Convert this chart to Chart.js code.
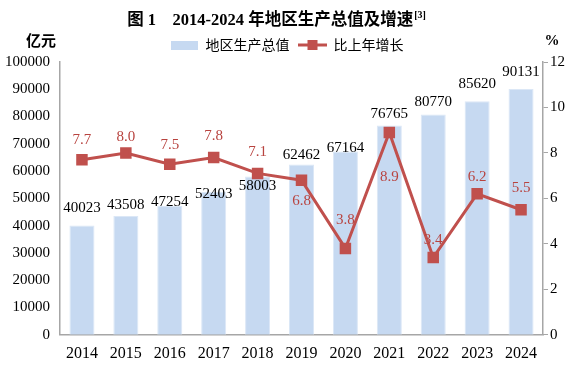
<!DOCTYPE html>
<html>
<head>
<meta charset="utf-8">
<script src="https://cdn.jsdelivr.net/npm/chart.js@4"></script>
<style>
  html, body { margin: 0; padding: 0; background: #fff; }
  #wrap { width: 574px; height: 372px; }
</style>
</head>
<body>
<div id="wrap"><canvas id="gdp-chart" width="574" height="372"></canvas></div>
<script>
// data
var years = ["2014", "2015", "2016", "2017", "2018", "2019", "2020", "2021", "2022", "2023", "2024"];
var gdp = [40023, 43508, 47254, 52403, 58003, 62462, 67164, 76765, 80770, 85620, 90131];
var growth = [7.7, 8.0, 7.5, 7.8, 7.1, 6.8, 3.8, 8.9, 3.4, 6.2, 5.5];

var serif = '"Liberation Serif", "Times New Roman", "Noto Sans CJK SC", serif';
var cjk = '"Noto Sans CJK SC", "Liberation Serif", serif';
var barColor = '#c6d9f1';
var lineColor = '#c0504d';
var axisColor = '#a6a6a6';

// label nudges (px from bar top / point), as placed in the original
var barLabelShift = [-18, -11, -4, 2, 9, -9, -4, -11, -12, -17, -17];
var lineLabelShift = [-20, -16, -19, -21, -21, 21, -28, 45, -17, -17, -22];

// little canvases used as legend symbols
function barSymbol() {
    var c = document.createElement('canvas');
    c.width = 27; c.height = 9;
    var g = c.getContext('2d');
    g.fillStyle = barColor;
    g.fillRect(0, 0, 27, 9);
    return c;
}
function lineSymbol() {
    var c = document.createElement('canvas');
    c.width = 29; c.height = 12;
    var g = c.getContext('2d');
    g.strokeStyle = lineColor;
    g.lineWidth = 3;
    g.beginPath(); g.moveTo(0, 6); g.lineTo(29, 6); g.stroke();
    g.fillStyle = lineColor;
    g.fillRect(9.5, 1, 10, 10);
    return c;
}

// title, unit labels and value labels
var extras = {
    id: 'extras',
    afterDraw: function(chart) {
        var ctx = chart.ctx;
        ctx.save();
        // title with superscript note
        var t1 = '图 1    2014-2024 年地区生产总值及增速';
        ctx.font = 'bold 16.5px ' + serif;
        var w1 = ctx.measureText(t1).width;
        ctx.font = 'bold 10px ' + serif;
        var w2 = ctx.measureText('[3]').width;
        var x0 = 276 - (w1 + w2) / 2;
        ctx.fillStyle = '#000';
        ctx.textBaseline = 'middle';
        ctx.textAlign = 'left';
        ctx.font = 'bold 16.5px ' + serif;
        ctx.fillText(t1, x0, 21);
        ctx.font = 'bold 10px ' + serif;
        ctx.fillText('[3]', x0 + w1 + 1, 15);

        // unit labels
        ctx.font = 'bold 15px ' + cjk;
        ctx.textAlign = 'center';
        ctx.fillText('亿元', 41, 40);
        ctx.font = 'bold 15px ' + serif;
        ctx.fillText('%', 552, 41);

        // bar values
        var bars = chart.getDatasetMeta(1).data;
        ctx.font = '15px ' + serif;
        ctx.fillStyle = '#000';
        bars.forEach(function(bar, i) {
            ctx.fillText(String(gdp[i]), bar.x, bar.y + barLabelShift[i]);
        });

        // growth values
        var pts = chart.getDatasetMeta(0).data;
        ctx.font = '15px ' + serif;
        ctx.fillStyle = '#b8433f';
        pts.forEach(function(p, i) {
            ctx.fillText(growth[i].toFixed(1), p.x, p.y + lineLabelShift[i]);
        });
        ctx.restore();
    }
};

var ctx = document.getElementById('gdp-chart').getContext('2d');

var myChart = new Chart(ctx, {
    data: {
        labels: years,
        datasets: [{
            type: 'line',
            label: '比上年增长',
            data: growth,
            yAxisID: 'y1',
            borderColor: lineColor,
            backgroundColor: lineColor,
            borderWidth: 3,
            pointStyle: 'rect',
            pointRadius: 6,
            pointHoverRadius: 6,
            tension: 0,
            order: 0
        }, {
            type: 'bar',
            label: '地区生产总值',
            data: gdp,
            yAxisID: 'y',
            backgroundColor: barColor,
            borderColor: '#dbe7f6',
            borderWidth: 1,
            barPercentage: 0.57,
            categoryPercentage: 1,
            order: 1
        }]
    },
    options: {
        responsive: false,
        animation: false,
        layout: {
            padding: { top: 29, left: 0, right: 0, bottom: 0 }
        },
        scales: {
            x: {
                offset: true,
                grid: { display: false, drawTicks: false },
                border: { color: axisColor, width: 1.5 },
                ticks: {
                    color: '#000',
                    padding: 9,
                    font: { family: serif, size: 16 }
                }
            },
            y: {
                position: 'left',
                min: 0,
                max: 100000,
                grid: { display: false, drawTicks: false },
                border: { color: axisColor, width: 1.5 },
                ticks: {
                    stepSize: 10000,
                    color: '#000',
                    padding: 10,
                    font: { family: serif, size: 15 },
                    callback: function(v) { return String(v); }
                },
                afterFit: function(s) { s.width = 60; }
            },
            y1: {
                position: 'right',
                min: 0,
                max: 12,
                grid: { display: true, drawOnChartArea: false, drawTicks: true, tickLength: 5, color: axisColor },
                border: { color: axisColor, width: 1.5 },
                ticks: {
                    stepSize: 2,
                    color: '#000',
                    padding: 2,
                    font: { family: serif, size: 15 }
                },
                afterFit: function(s) { s.width = 31; }
            }
        },
        plugins: {
            legend: {
                position: 'top',
                reverse: true,
                labels: {
                    usePointStyle: true,
                    pointStyleWidth: 28,
                    padding: 9,
                    color: '#000',
                    font: { family: cjk, size: 14 },
                    generateLabels: function(chart) {
                        return [
                            { text: '比上年增长', pointStyle: lineSymbol(), datasetIndex: 0, fontColor: '#000', lineWidth: 0 },
                            { text: '地区生产总值', pointStyle: barSymbol(), datasetIndex: 1, fontColor: '#000', lineWidth: 0 }
                        ];
                    }
                }
            },
            title: { display: false },
            tooltip: { enabled: false }
        }
    },
    plugins: [extras]
});
</script>
</body>
</html>
